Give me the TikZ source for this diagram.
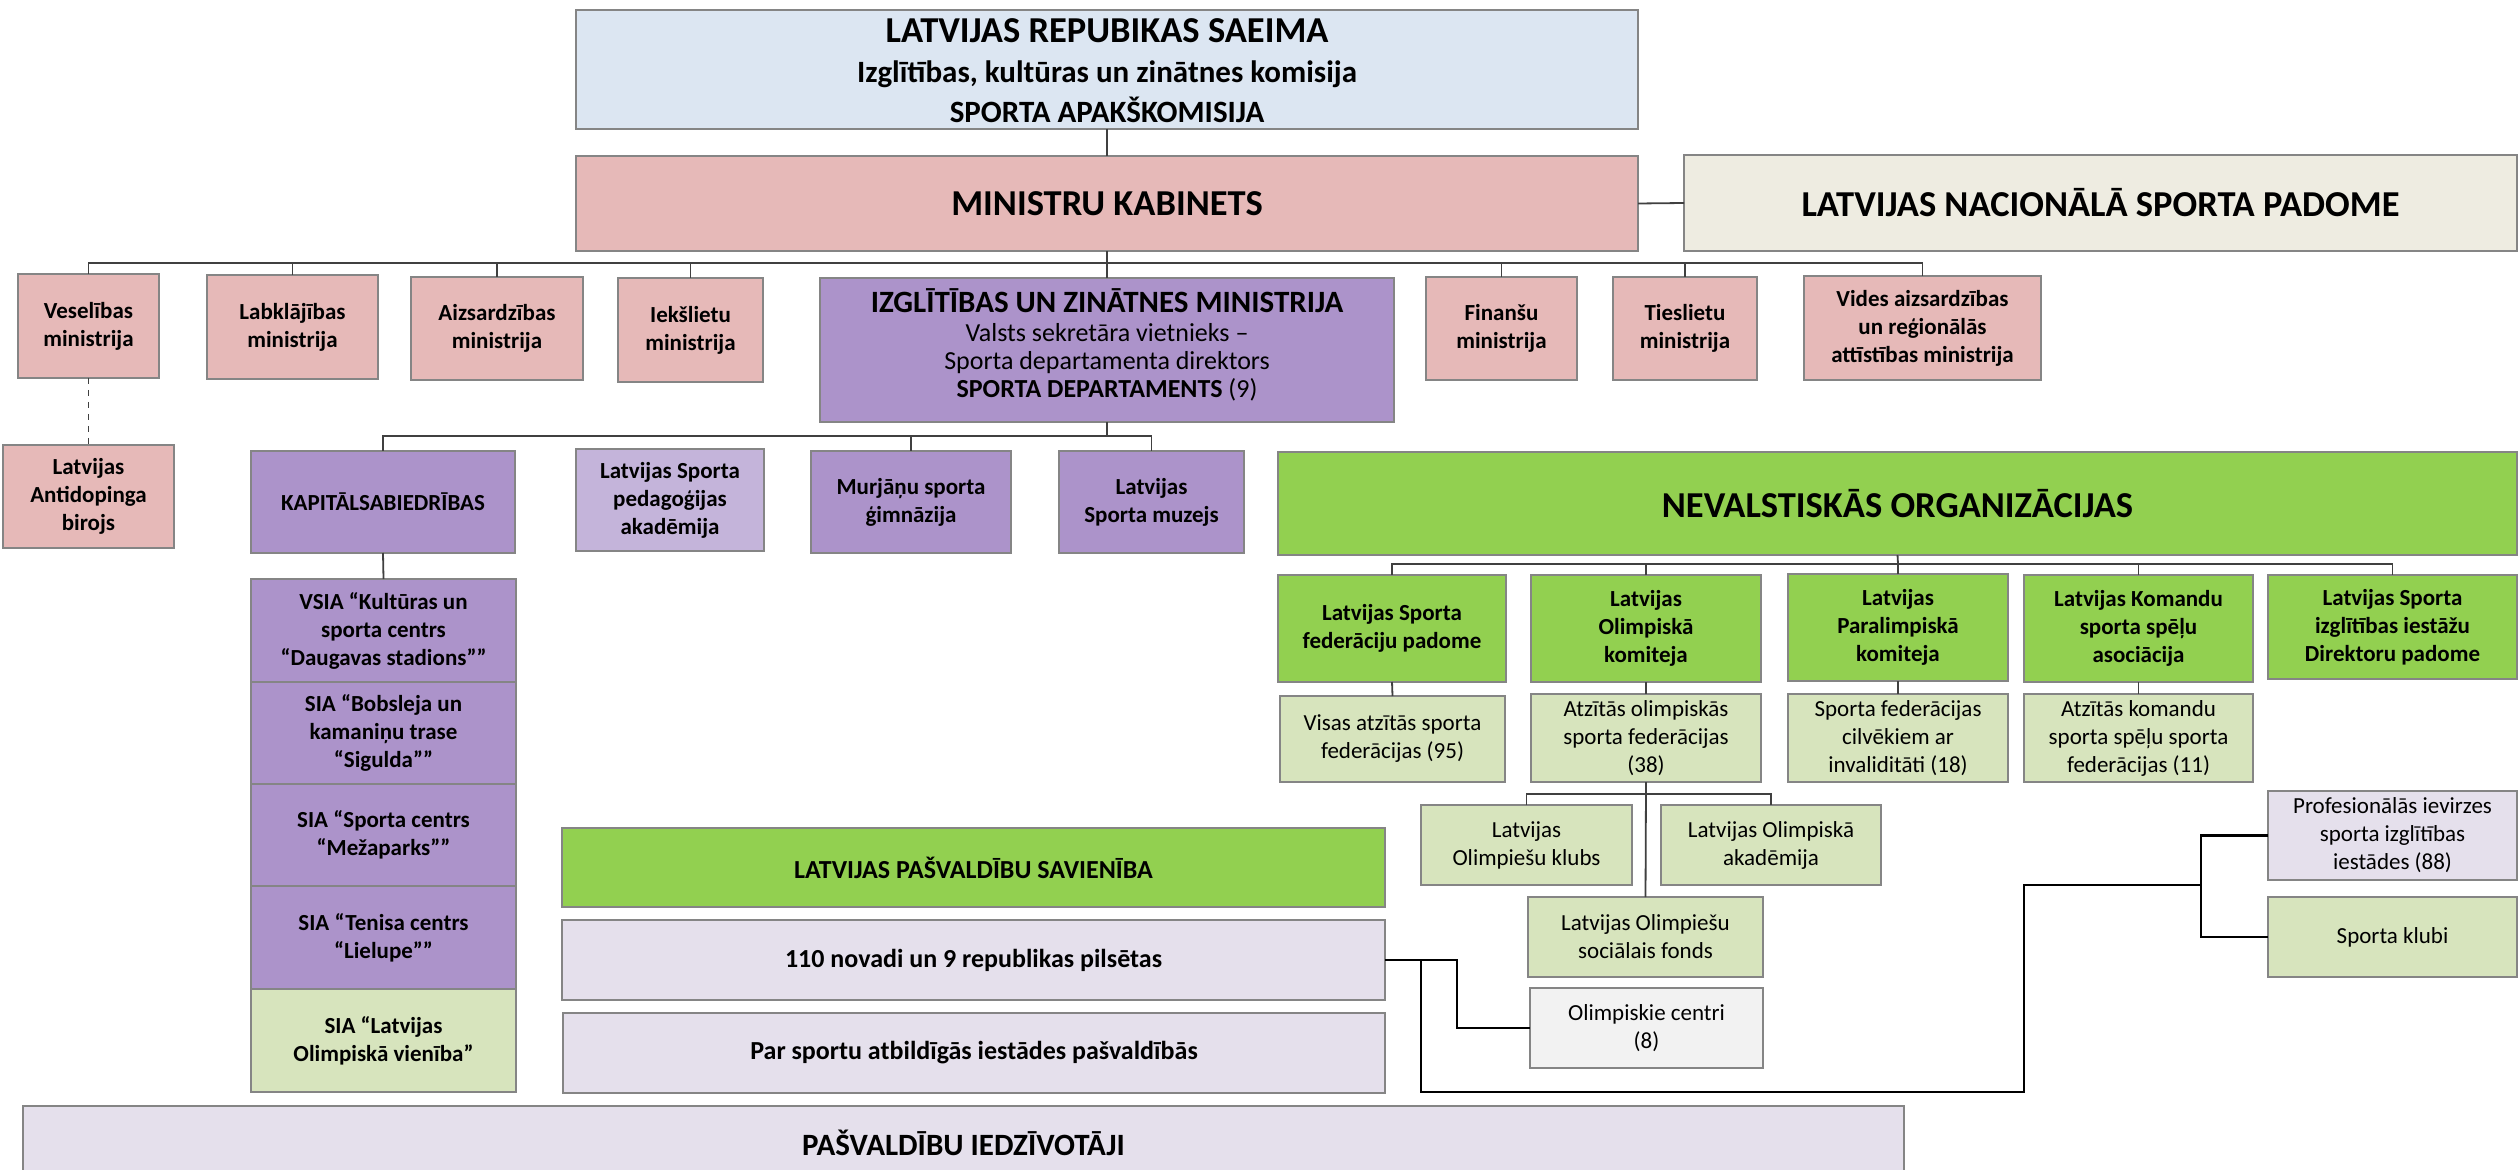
\documentclass[tikz,border=0pt]{standalone}
\usepackage{fontspec}
\setmainfont{Carlito}
\definecolor{cblue}{HTML}{DCE6F2}
\definecolor{cpink}{HTML}{E6B9B8}
\definecolor{cbeige}{HTML}{EEECE1}
\definecolor{cpurple}{HTML}{AC93CA}
\definecolor{clpurple}{HTML}{C4B4DA}
\definecolor{cgreen}{HTML}{92D050}
\definecolor{clgreen}{HTML}{D7E4BD}
\definecolor{clav}{HTML}{E5E0EC}
\definecolor{cgrey}{HTML}{F2F2F2}
\definecolor{cborder}{HTML}{858585}
\newcommand\fs[2]{\fontsize{#1}{#2}\selectfont}
\newcommand\bx[7]{\node[#6, minimum width={(#4-#2)*0.5pt}, minimum height={(#5-#3)*0.5pt}] (#1) at ({(#2+#4)/2},{(#3+#5)/2}) {#7};}
\tikzset{
  box/.style={draw=cborder, line width=1.2pt, inner sep=0pt, outer sep=0pt, align=center, font=\fs{11.5}{14}},
  bb/.style={box, font=\fs{11.5}{14}\bfseries},
  con/.style={draw=black!75, line width=0.9pt},
  blk/.style={draw=black, line width=1.4pt},
  lbl/.style={anchor=base, inner sep=0pt, outer sep=0pt}
}
\begin{document}
\begin{tikzpicture}[x=0.5pt,y=-0.5pt]
\useasboundingbox[fill=white] (0,0) rectangle (2519,1170);
% top
\bx{saeima}{576}{10}{1638}{129}{box, fill=cblue}{}
\node[lbl, font=\fs{18.25}{20}\bfseries] (s1) at (1107,43) {LATVIJAS REPUBIKAS SAEIMA};
\node[lbl, font=\fs{15.5}{20}\bfseries] (s2) at (1107,83) {Izglītības, kultūras un zinātnes komisija};
\node[lbl, font=\fs{15.5}{20}\bfseries] (s3) at (1107,123) {SPORTA APAKŠKOMISIJA};
\bx{mk}{576}{156}{1638}{251}{box, fill=cpink, font=\fs{18.25}{20}\bfseries}{MINISTRU KABINETS}
\bx{lnsp}{1684}{155}{2517}{251}{box, fill=cbeige, font=\fs{18.25}{20}\bfseries}{LATVIJAS NACIONĀLĀ SPORTA PADOME}
% ministries
\bx{ves}{18}{274}{159}{378}{bb, fill=cpink}{Veselības\\ministrija}
\bx{lab}{207}{275}{378}{379}{bb, fill=cpink}{Labklājības\\ministrija}
\bx{aiz}{411}{277}{583}{380}{bb, fill=cpink}{Aizsardzības\\ministrija}
\bx{iek}{618}{278}{763}{382}{bb, fill=cpink}{Iekšlietu\\ministrija}
\bx{izm}{820}{278}{1394}{422}{box, fill=cpurple}{}
\node[lbl, font=\fs{15.5}{18}\bfseries] (i1) at (1107,313) {IZGLĪTĪBAS UN ZINĀTNES MINISTRIJA};
\node[lbl, font=\fs{13}{15}] (i2) at (1107,342) {Valsts sekretāra vietnieks –};
\node[lbl, font=\fs{13}{15}] (i3) at (1107,370) {Sporta departamenta direktors};
\node[lbl, font=\fs{13}{15}] (i4) at (1107,398) {\textbf{SPORTA DEPARTAMENTS} (9)};
\bx{fin}{1426}{277}{1577}{380}{bb, fill=cpink}{Finanšu\\ministrija}
\bx{tie}{1613}{277}{1757}{380}{bb, fill=cpink}{Tieslietu\\ministrija}
\bx{vid}{1804}{276}{2041}{380}{bb, fill=cpink}{Vides aizsardzības\\un reģionālās\\attīstības ministrija}
\bx{anti}{3}{445}{174}{548}{bb, fill=cpink}{Latvijas\\Antidopinga\\birojs}
% IZM children
\bx{kap}{251}{451}{515}{553}{bb, fill=cpurple}{KAPITĀLSABIEDRĪBAS}
\bx{lspa}{576}{449}{764}{551}{bb, fill=clpurple}{Latvijas Sporta\\pedagoģijas\\akadēmija}
\bx{mur}{811}{451}{1011}{553}{bb, fill=cpurple}{Murjāņu sporta\\ģimnāzija}
\bx{muz}{1059}{451}{1244}{553}{bb, fill=cpurple}{Latvijas\\Sporta muzejs}
\bx{vsia}{251}{579}{516}{682}{bb, fill=cpurple}{VSIA “Kultūras un\\sporta centrs\\“Daugavas stadions””}
\bx{bob}{251}{682}{516}{784}{bb, fill=cpurple}{SIA “Bobsleja un\\kamaniņu trase\\“Sigulda””}
\bx{mez}{251}{784}{516}{886}{bb, fill=cpurple}{SIA “Sporta centrs\\“Mežaparks””}
\bx{ten}{251}{886}{516}{989}{bb, fill=cpurple}{SIA “Tenisa centrs\\“Lielupe””}
\bx{olv}{251}{989}{516}{1092}{bb, fill=clgreen}{SIA “Latvijas\\Olimpiskā vienība”}
% municipalities
\bx{lps}{562}{828}{1385}{907}{box, fill=cgreen, font=\fs{13}{15}\bfseries}{LATVIJAS PAŠVALDĪBU SAVIENĪBA}
\bx{nov}{562}{920}{1385}{1000}{box, fill=clav, font=\fs{13}{15}\bfseries}{110 novadi un 9 republikas pilsētas}
\bx{par}{563}{1013}{1385}{1093}{box, fill=clav, font=\fs{13}{15}\bfseries}{Par sportu atbildīgās iestādes pašvaldībās}
\bx{iedz}{23}{1106}{1904}{1180}{box, fill=clav, font=\fs{15.5}{18}\bfseries}{PAŠVALDĪBU IEDZĪVOTĀJI}
% NGO
\bx{nvo}{1278}{452}{2517}{555}{box, fill=cgreen, font=\fs{18.25}{20}\bfseries}{NEVALSTISKĀS ORGANIZĀCIJAS}
\bx{lsfp}{1278}{575}{1506}{682}{bb, fill=cgreen}{Latvijas Sporta\\federāciju padome}
\bx{lok}{1531}{575}{1761}{682}{bb, fill=cgreen}{Latvijas\\Olimpiskā\\komiteja}
\bx{lpk}{1788}{574}{2008}{681}{bb, fill=cgreen}{Latvijas\\Paralimpiskā\\komiteja}
\bx{lkssa}{2024}{575}{2253}{682}{bb, fill=cgreen}{Latvijas Komandu\\sporta spēļu\\asociācija}
\bx{lsiidp}{2268}{575}{2517}{679}{bb, fill=cgreen}{Latvijas Sporta\\izglītības iestāžu\\Direktoru padome}
\bx{visas}{1280}{696}{1505}{782}{box, fill=clgreen}{Visas atzītās sporta\\federācijas (95)}
\bx{atz}{1531}{694}{1761}{782}{box, fill=clgreen}{Atzītās olimpiskās\\sporta federācijas\\(38)}
\bx{inv}{1788}{694}{2008}{782}{box, fill=clgreen}{Sporta federācijas\\cilvēkiem ar\\invaliditāti (18)}
\bx{kom}{2024}{694}{2253}{782}{box, fill=clgreen}{Atzītās komandu\\sporta spēļu sporta\\federācijas (11)}
\bx{klubs}{1421}{805}{1632}{885}{box, fill=clgreen}{Latvijas\\Olimpiešu klubs}
\bx{akad}{1661}{805}{1881}{885}{box, fill=clgreen}{Latvijas Olimpiskā\\akadēmija}
\bx{fonds}{1528}{897}{1763}{977}{box, fill=clgreen}{Latvijas Olimpiešu\\sociālais fonds}
\bx{centri}{1530}{988}{1763}{1068}{box, fill=cgrey}{Olimpiskie centri\\(8)}
\bx{prof}{2268}{791}{2517}{880}{box, fill=clav}{Profesionālās ievirzes\\sporta izglītības\\iestādes (88)}
\bx{sk}{2268}{897}{2517}{977}{box, fill=clgreen}{Sporta klubi}
% connectors
\coordinate (b1) at (1107,263);
\coordinate (b2) at (1107,436);
\coordinate (b3) at (1898,564);
\coordinate (b4) at (1646,794);
\draw[con] (saeima.south) -- (mk.north);
\draw[con] (mk.east) -- (lnsp.west);
\draw[con] (mk.south) -- (izm.north);
\draw[con] (ves.north) -- (ves.north |- b1) -- (vid.north |- b1) -- (vid.north);
\foreach \n in {lab,aiz,iek,fin,tie} \draw[con] (\n.north) -- (\n.north |- b1);
\draw[con, dashed] (ves.south) -- (anti.north);
\draw[con] (izm.south) -- (b2);
\draw[con] (kap.north) -- (kap.north |- b2) -- (muz.north |- b2) -- (muz.north);
\draw[con] (mur.north) -- (mur.north |- b2);
\draw[con] (kap.south) -- (vsia.north);
\draw[con] (nvo.south) -- (b3);
\draw[con] (lsfp.north) -- (lsfp.north |- b3) -- (lsiidp.north |- b3) -- (lsiidp.north);
\foreach \n in {lok,lpk,lkssa} \draw[con] (\n.north) -- (\n.north |- b3);
\draw[con] (lsfp.south) -- (visas.north);
\draw[con] (lok.south) -- (atz.north);
\draw[con] (lpk.south) -- (inv.north);
\draw[con] (lkssa.south) -- (kom.north);
\draw[con] (atz.south) -- (fonds.north);
\draw[con] (klubs.north) -- (klubs.north |- b4) -- (akad.north |- b4) -- (akad.north);
% black connectors
\coordinate (j1) at (1457,960);
\coordinate (j2) at (1421,960);
\coordinate (j3) at (1421,1092);
\coordinate (j4) at (2024,1092);
\coordinate (j5) at (2024,885);
\coordinate (j6) at (2201,885);
\draw[blk] (nov.east) -- (j1) |- (centri.west);
\draw[blk] (j2) -- (j3) -- (j4) -- (j5) -- (j6);
\draw[blk] (prof.west) -| (j6);
\draw[blk] (sk.west) -| (j6);
\end{tikzpicture}
\end{document}
